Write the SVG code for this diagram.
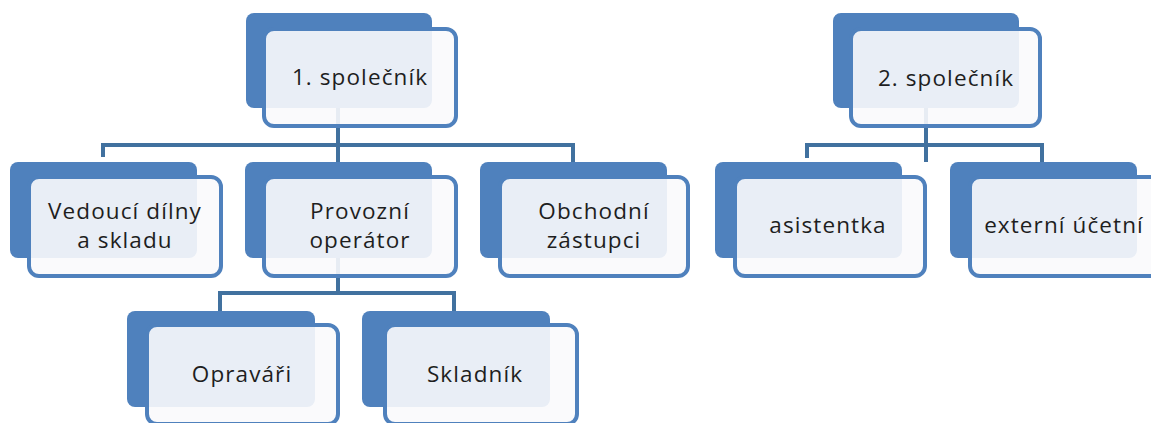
<svg xmlns="http://www.w3.org/2000/svg" width="1151" height="423" viewBox="0 0 1151 423">
<style>
.back{fill:#4f81bd}
.front{fill:#f9fafc;fill-opacity:0.9;stroke:#4f81bd;stroke-width:4}
.lbl{font-family:"Open Sans","Noto Sans",sans-serif;font-size:22.5px;letter-spacing:1.1px;fill:#1e1e1e;text-anchor:middle}
.conn{fill:none;stroke:#41719f;stroke-width:4}
</style>
<rect width="1151" height="423" fill="#ffffff"/>
<g id="connectors">
<path class="conn" d="M338 108 V145 M103 157 V145 H573 V162 M338 145 V162"/>
<path class="conn" d="M338 258 V293 M220 311 V293 H454 V311"/>
<path class="conn" d="M926 108 V145 M807 158 V145 H1042 V162 M926 145 V162"/>
</g>
<g id="n1">
<rect class="back" x="246" y="13" width="186" height="95" rx="8"/>
<rect class="front" x="264" y="29" width="192" height="97" rx="10"/>
<text class="lbl" x="360" y="85">1. společník</text>
</g>
<g id="n2">
<rect class="back" x="833" y="13" width="186" height="95" rx="8"/>
<rect class="front" x="851" y="29" width="189" height="97" rx="10"/>
<text class="lbl" x="946" y="86">2. společník</text>
</g>
<g id="vedouci">
<rect class="back" x="10" y="162" width="187" height="96" rx="8"/>
<rect class="front" x="29" y="177" width="192" height="99" rx="10"/>
<text class="lbl"><tspan x="125" y="219">Vedoucí dílny</tspan><tspan x="125" y="248">a skladu</tspan></text>
</g>
<g id="provozni">
<rect class="back" x="245" y="162" width="187" height="96" rx="8"/>
<rect class="front" x="264" y="177" width="192" height="99" rx="10"/>
<text class="lbl"><tspan x="360" y="219">Provozní</tspan><tspan x="360" y="248">operátor</tspan></text>
</g>
<g id="obchodni">
<rect class="back" x="480" y="162" width="187" height="96" rx="8"/>
<rect class="front" x="500" y="177" width="188" height="99" rx="10"/>
<text class="lbl"><tspan x="594" y="219">Obchodní</tspan><tspan x="594" y="248">zástupci</tspan></text>
</g>
<g id="opravari">
<rect class="back" x="127" y="311" width="188" height="96" rx="8"/>
<rect class="front" x="147" y="325" width="191" height="99" rx="10"/>
<text class="lbl" x="242" y="382">Opraváři</text>
</g>
<g id="skladnik">
<rect class="back" x="362" y="311" width="188" height="96" rx="8"/>
<rect class="front" x="385" y="325" width="192" height="99" rx="10"/>
<text class="lbl" x="475" y="382">Skladník</text>
</g>
<g id="asistentka">
<rect class="back" x="715" y="162" width="187" height="96" rx="8"/>
<rect class="front" x="735" y="177" width="190" height="99" rx="10"/>
<text class="lbl" x="828" y="233">asistentka</text>
</g>
<g id="externi">
<rect class="back" x="950" y="162" width="187" height="96" rx="8"/>
<rect class="front" x="970" y="177" width="192" height="99" rx="10"/>
<text class="lbl" x="1064" y="233">externí účetní</text>
</g>
</svg>
